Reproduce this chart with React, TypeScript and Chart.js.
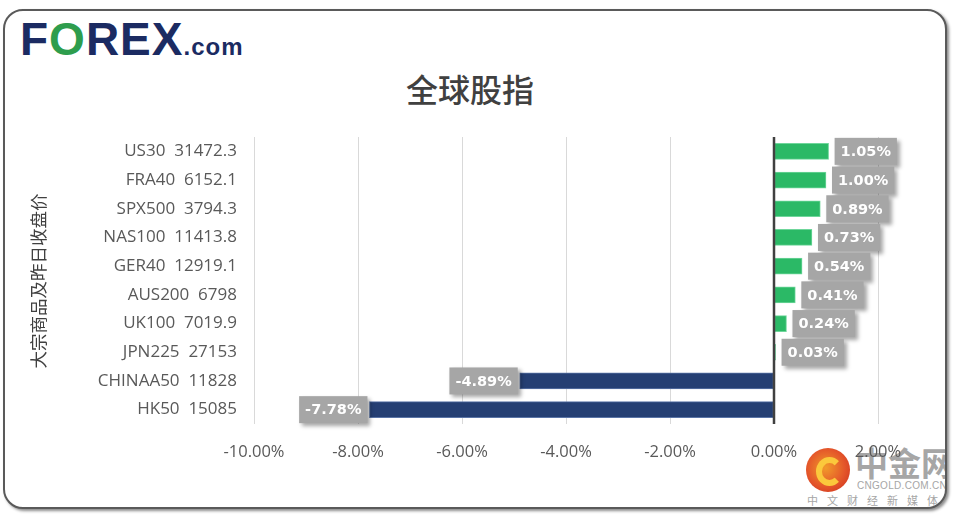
import React, { useEffect, useRef } from "react";
import { Chart, registerables } from "chart.js";

Chart.register(...registerables);

const indexNames = ["US30", "FRA40", "SPX500", "NAS100", "GER40", "AUS200", "UK100", "JPN225", "CHINAA50", "HK50"];
const closePrices = ["31472.3", "6152.1", "3794.3", "11413.8", "12919.1", "6798", "7019.9", "27153", "11828", "15085"];
const changePct = [1.05, 1.0, 0.89, 0.73, 0.54, 0.41, 0.24, 0.03, -4.89, -7.78];
const xMin = -10;
const xMax = 2;
const xStep = 2;

const chartTitle = "全球股指";
const yAxisTitle = "大宗商品及昨日收盘价";

const GREEN = "#2bb966";
const GREEN_EDGE = "#6fd69b";
const NAVY = "#253f73";
const NAVY_EDGE = "#5a74a6";

export default function App() {
  const canvasRef = useRef<HTMLCanvasElement | null>(null);

  useEffect(() => {
    const canvas = canvasRef.current;
    if (!canvas) return;
    const labels = indexNames.map((n, i) => `${n}  ${closePrices[i]}`);

    const overlay = {
      id: "overlay",
      afterDatasetsDraw(chart: any) {
        const ctx = chart.ctx;
        const xs = chart.scales.x;
        const area = chart.chartArea;
        const x0 = xs.getPixelForValue(0);
        ctx.save();
        ctx.strokeStyle = "#404040";
        ctx.lineWidth = 2.5;
        ctx.beginPath();
        ctx.moveTo(x0, area.top);
        ctx.lineTo(x0, area.bottom);
        ctx.stroke();
        ctx.restore();
      },
      afterDraw(chart: any) {
        const ctx = chart.ctx;
        const xs = chart.scales.x;
        const area = chart.chartArea;

        // x tick labels
        ctx.save();
        ctx.font = '16.5px "Open Sans"';
        ctx.fillStyle = "#595959";
        ctx.textAlign = "center";
        ctx.textBaseline = "middle";
        xs.ticks.forEach((t: any) => {
          const px = xs.getPixelForValue(t.value);
          ctx.fillText(Number(t.value).toFixed(2) + "%", px, area.bottom + 28);
        });
        ctx.restore();

        // data labels
        const meta = chart.getDatasetMeta(0);
        ctx.save();
        ctx.font = 'bold 14.5px "DejaVu Sans"';
        meta.data.forEach((bar: any, i: number) => {
          const v = changePct[i];
          const txt = v.toFixed(2) + "%";
          const tw = ctx.measureText(txt).width;
          const w = tw + 12;
          const h = 27;
          const left = v >= 0 ? bar.x + 6 : bar.x - 2 - w;
          const top = bar.y - h / 2;
          ctx.save();
          ctx.shadowColor = "rgba(0,0,0,0.35)";
          ctx.shadowBlur = 4;
          ctx.shadowOffsetX = 3;
          ctx.shadowOffsetY = 3;
          ctx.fillStyle = "#a6a6a6";
          ctx.fillRect(left, top, w, h);
          ctx.restore();
          ctx.fillStyle = "#ffffff";
          ctx.textAlign = "center";
          ctx.textBaseline = "middle";
          ctx.fillText(txt, left + w / 2, top + h / 2 + 1);
        });
        ctx.restore();

        // y axis title
        ctx.save();
        ctx.translate(38, 281);
        ctx.rotate(-Math.PI / 2);
        ctx.font = '17.5px "Noto Sans CJK SC"';
        ctx.fillStyle = "#404040";
        ctx.textAlign = "center";
        ctx.textBaseline = "middle";
        ctx.fillText(yAxisTitle, 0, 0);
        ctx.restore();
      },
    };

    const chart = new Chart(canvas, {
      type: "bar",
      data: {
        labels,
        datasets: [
          {
            data: changePct,
            backgroundColor: changePct.map((v) => (v >= 0 ? GREEN : NAVY)),
            borderColor: changePct.map((v) => (v >= 0 ? GREEN_EDGE : NAVY_EDGE)),
            borderWidth: 1,
            borderSkipped: false,
            barThickness: 16,
          },
        ],
      },
      options: {
        indexAxis: "y",
        responsive: false,
        animation: false,
        devicePixelRatio: 1,
        layout: { padding: { top: 137, right: 83, bottom: 0, left: 0 } },
        plugins: {
          legend: { display: false },
          tooltip: { enabled: false },
          title: { display: false },
        },
        scales: {
          x: {
            type: "linear",
            min: xMin,
            max: xMax,
            ticks: {
              stepSize: xStep,
              display: false,
              callback: (v: any) => Number(v).toFixed(2) + "%",
            },
            grid: { color: "#d9d9d9", lineWidth: 1, drawTicks: false },
            border: { display: false },
            afterFit: (s: any) => {
              s.height = 94;
            },
          },
          y: {
            type: "category",
            ticks: {
              padding: 17,
              color: "#595959",
              font: { family: '"Open Sans"', size: 17 },
            },
            grid: { display: false, drawTicks: false },
            border: { display: false },
            afterFit: (s: any) => {
              s.width = 254;
            },
          },
        },
      },
      plugins: [overlay],
    } as any);

    return () => chart.destroy();
  }, []);

  return (
    <div style={{ position: "absolute", left: 0, top: 0, width: 961, height: 518, background: "#fff", overflow: "hidden" }}>
      <div
        style={{
          position: "absolute",
          left: 3,
          top: 9,
          width: 940,
          height: 496,
          border: "2px solid #5a5a5a",
          borderRadius: 20,
          boxShadow: "2px 2px 3px rgba(0,0,0,0.45)",
          background: "#fff",
          overflow: "hidden",
        }}
      >
        {/* watermark */}
        <div style={{ position: "absolute", left: 801, top: 437, width: 44, height: 44, borderRadius: "50%", background: "radial-gradient(circle at 45% 45%, #f19a2a 0%, #e4562a 55%, #c9281c 100%)" }}>
          <div style={{ position: "absolute", left: 10, top: 9, width: 15, height: 17, borderRadius: "50%", border: "6px solid #fbc83c", borderRightColor: "transparent" }} />
        </div>
        <div style={{ position: "absolute", left: 850, top: 433, fontFamily: '"Noto Sans CJK SC"', fontWeight: 700, fontSize: 33, lineHeight: "36px", color: "#a6a6a6", whiteSpace: "nowrap" }}>中金网</div>
        <div style={{ position: "absolute", left: 852, top: 470, fontFamily: '"Liberation Sans"', fontSize: 10, lineHeight: "10px", color: "#a6a6a6", letterSpacing: 0.3, whiteSpace: "nowrap" }}>CNGOLD.COM.CN</div>
        <div style={{ position: "absolute", left: 802, top: 482, fontFamily: '"Noto Sans CJK SC"', fontSize: 11, lineHeight: "14px", color: "#a6a6a6", letterSpacing: 9, whiteSpace: "nowrap" }}>中文财经新媒体</div>
      </div>
      {/* logo */}
      <div style={{ position: "absolute", left: 20, top: 16, fontFamily: '"Liberation Sans"', fontWeight: 700, fontSize: 46, lineHeight: "46px", color: "#1b2b62", whiteSpace: "nowrap", letterSpacing: 1 }}>
        F<span style={{ color: "#2e9d4d" }}>O</span>REX<span style={{ fontSize: 24 }}>.com</span>
      </div>
      {/* title */}
      <div style={{ position: "absolute", left: 370, top: 67, width: 200, textAlign: "center", fontFamily: '"Noto Sans CJK SC"', fontWeight: 500, fontSize: 32, lineHeight: "42px", color: "#404040" }}>{chartTitle}</div>
      <canvas ref={canvasRef} width={961} height={518} style={{ position: "absolute", left: 0, top: 0, width: 961, height: 518 }} />
    </div>
  );
}
